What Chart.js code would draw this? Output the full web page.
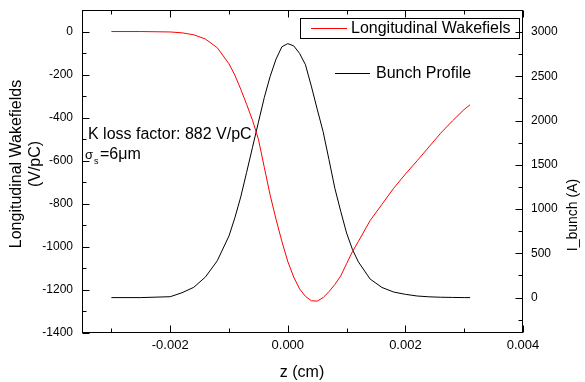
<!DOCTYPE html>
<html>
<head>
<meta charset="utf-8">
<script src="https://cdn.jsdelivr.net/npm/chart.js@4.4.1/dist/chart.umd.min.js"></script>
<style>
  html, body { margin: 0; padding: 0; background: #ffffff; }
  canvas { display: block; }
</style>
</head>
<body>
<canvas id="c" width="585" height="382"></canvas>
<script>
// ---- data ----
const zValues = [-0.0030, -0.0025, -0.0020, -0.0018, -0.0016, -0.0014, -0.0012, -0.0010, -0.0009, -0.0008,
                 -0.0007, -0.0006, -0.0005, -0.0004, -0.0003, -0.0002, -0.0001, 0.0000, 0.0001, 0.0002,
                 0.0003, 0.0004, 0.0005, 0.0006, 0.0007, 0.0008, 0.0009, 0.0010, 0.0011, 0.0012,
                 0.0014, 0.0016, 0.0018, 0.0020, 0.0022, 0.0024, 0.0026, 0.0028, 0.0030, 0.0031];
const wakeValues = [0, 0, -2, -6, -15, -35, -75, -150, -203, -268,
                    -338, -412, -500, -630, -760, -872, -975, -1068, -1140, -1195,
                    -1230, -1250, -1252, -1236, -1208, -1175, -1135, -1078, -1022, -975,
                    -878, -803, -728, -662, -600, -536, -472, -415, -362, -340];
const bunchValues = [0, 0, 10, 55, 116, 233, 416, 697, 903, 1138,
                     1416, 1699, 1981, 2260, 2500, 2695, 2835, 2870, 2845, 2760,
                     2632, 2390, 2130, 1877, 1560, 1236, 975, 729, 543, 404,
                     210, 115, 63, 37, 18, 9, 4, 2, 0, 0];
const xTickValues = [-0.002, 0, 0.002, 0.004];
const yTickValues = [-1400, -1200, -1000, -800, -600, -400, -200, 0];
const y2TickValues = [0, 500, 1000, 1500, 2000, 2500, 3000];
const seriesNames = ["Longitudinal Wakefiels", "Bunch Profile"];
const xTitle = "z (cm)";
const yTitleLines = ["Longitudinal Wakefields", "(V/pC)"];
const y2Title = "I_bunch (A)";
const annotationLine1 = "K loss factor: 882 V/pC";

const FONT = "'Liberation Sans', Arial, sans-serif";

const wakeData = zValues.map((z, i) => ({ x: z, y: wakeValues[i] }));
const bunchData = zValues.map((z, i) => ({ x: z, y: bunchValues[i] }));

const decorPlugin = {
  id: 'decor',
  afterDatasetsDraw(chart) {
    const ctx = chart.ctx;
    const a = chart.chartArea;
    const { x, y, y2 } = chart.scales;
    ctx.save();
    ctx.strokeStyle = '#000';
    ctx.lineWidth = 1;
    const L = Math.round(a.left) + 0.5, R = Math.round(a.right) - 0.5;
    const T = Math.round(a.top) + 0.5, B = Math.round(a.bottom) - 0.5;
    ctx.strokeRect(L, T, R - L, B - T);
    const MAJ = 7, MIN = 4;
    ctx.beginPath();
    for (let k = -4; k <= 4; k++) {
      const v = k / 1000;
      if (v < x.min - 1e-9 || v > x.max + 1e-9) continue;
      const px = Math.round(x.getPixelForValue(v)) + 0.5;
      const len = (k % 2 === 0) ? MAJ : MIN;
      ctx.moveTo(px, B); ctx.lineTo(px, B - len);
      ctx.moveTo(px, T); ctx.lineTo(px, T + len);
    }
    for (let k = -14; k <= 1; k++) {
      const v = k * 100;
      if (v < y.min || v > y.max) continue;
      const py = Math.round(y.getPixelForValue(v)) + 0.5;
      const len = (k % 2 === 0) ? MAJ : MIN;
      ctx.moveTo(L, py); ctx.lineTo(L + len, py);
    }
    for (let k = -1; k <= 13; k++) {
      const v = k * 250;
      if (v < y2.min || v > y2.max) continue;
      const py = Math.round(y2.getPixelForValue(v)) + 0.5;
      const len = (k % 2 === 0) ? MAJ : MIN;
      ctx.moveTo(R, py); ctx.lineTo(R - len, py);
    }
    ctx.stroke();

    const ds = chart.data.datasets;
    ctx.font = '16px ' + FONT;
    ctx.textBaseline = 'middle';
    ctx.textAlign = 'left';
    ctx.fillStyle = '#000';
    ctx.strokeStyle = '#000';
    ctx.strokeRect(300.5, 18.5, 219, 20);
    ctx.beginPath();
    ctx.strokeStyle = ds[0].borderColor;
    ctx.moveTo(311, 28.5); ctx.lineTo(347, 28.5);
    ctx.stroke();
    ctx.fillText(ds[0].label, 351, 29);
    ctx.beginPath();
    ctx.strokeStyle = ds[1].borderColor;
    ctx.moveTo(335, 73.5); ctx.lineTo(370, 73.5);
    ctx.stroke();
    ctx.fillText(ds[1].label, 376, 74);

    ctx.fillText(annotationLine1, 88, 135);
    ctx.font = '13px ' + FONT;
    ctx.fillText('\u03C3', 85, 155);
    ctx.font = '9px ' + FONT;
    ctx.fillText('s', 94, 162);
    ctx.font = '16px ' + FONT;
    ctx.fillText('=6\u03BCm', 100, 155);

    ctx.textAlign = 'center';
    ctx.fillText(xTitle, 302, 373);
    ctx.save();
    ctx.translate(17, 164);
    ctx.rotate(-Math.PI / 2);
    ctx.fillText(yTitleLines[0], 0, 0);
    ctx.restore();
    ctx.save();
    ctx.translate(36, 164);
    ctx.rotate(-Math.PI / 2);
    ctx.fillText(yTitleLines[1], 0, 0);
    ctx.restore();
    ctx.save();
    ctx.font = '14px ' + FONT;
    ctx.translate(573, 215);
    ctx.rotate(-Math.PI / 2);
    ctx.fillText(y2Title, 0, 0);
    ctx.restore();
    ctx.restore();
  }
};

const setTicks = vals => s => { s.ticks = vals.map(v => ({ value: v })); };
const fixSize = (w, h) => s => {
  if (w !== null) s.width = w;
  if (h !== null) s.height = h;
  s.paddingTop = 0; s.paddingBottom = 0; s.paddingLeft = 0; s.paddingRight = 0;
};

new Chart(document.getElementById('c'), {
  type: 'line',
  data: {
    datasets: [
      { label: seriesNames[0], data: wakeData, yAxisID: 'y', borderColor: '#ff0000', borderWidth: 1,
        pointRadius: 0, tension: 0, fill: false },
      { label: seriesNames[1], data: bunchData, yAxisID: 'y2', borderColor: '#000000', borderWidth: 1,
        pointRadius: 0, tension: 0, fill: false }
    ]
  },
  options: {
    responsive: false,
    animation: false,
    devicePixelRatio: 1,
    layout: { autoPadding: false, padding: { top: 10, left: 0, right: 0, bottom: 0 } },
    plugins: { legend: { display: false }, tooltip: { enabled: false } },
    scales: {
      x: {
        type: 'linear', position: 'bottom', min: -0.0035, max: 0.004,
        grid: { display: false, drawTicks: false }, border: { display: false },
        afterBuildTicks: setTicks(xTickValues),
        ticks: { padding: 5, color: '#000', font: { family: FONT, size: 13 },
                 callback: v => (Math.abs(v) < 1e-12 ? 0 : v).toFixed(3) },
        afterFit: fixSize(null, 49)
      },
      y: {
        type: 'linear', position: 'left', min: -1400, max: 100,
        grid: { display: false, drawTicks: false }, border: { display: false },
        afterBuildTicks: setTicks(yTickValues),
        ticks: { padding: 9, color: '#000', font: { family: FONT, size: 12 }, callback: v => String(v) },
        afterFit: fixSize(82, null)
      },
      y2: {
        type: 'linear', position: 'right', min: -400, max: 3250,
        grid: { display: false, drawTicks: false }, border: { display: false },
        afterBuildTicks: setTicks(y2TickValues),
        ticks: { padding: 8, color: '#000', font: { family: FONT, size: 12 }, callback: v => String(v) },
        afterFit: fixSize(62, null)
      }
    }
  },
  plugins: [decorPlugin]
});
</script>
</body>
</html>
